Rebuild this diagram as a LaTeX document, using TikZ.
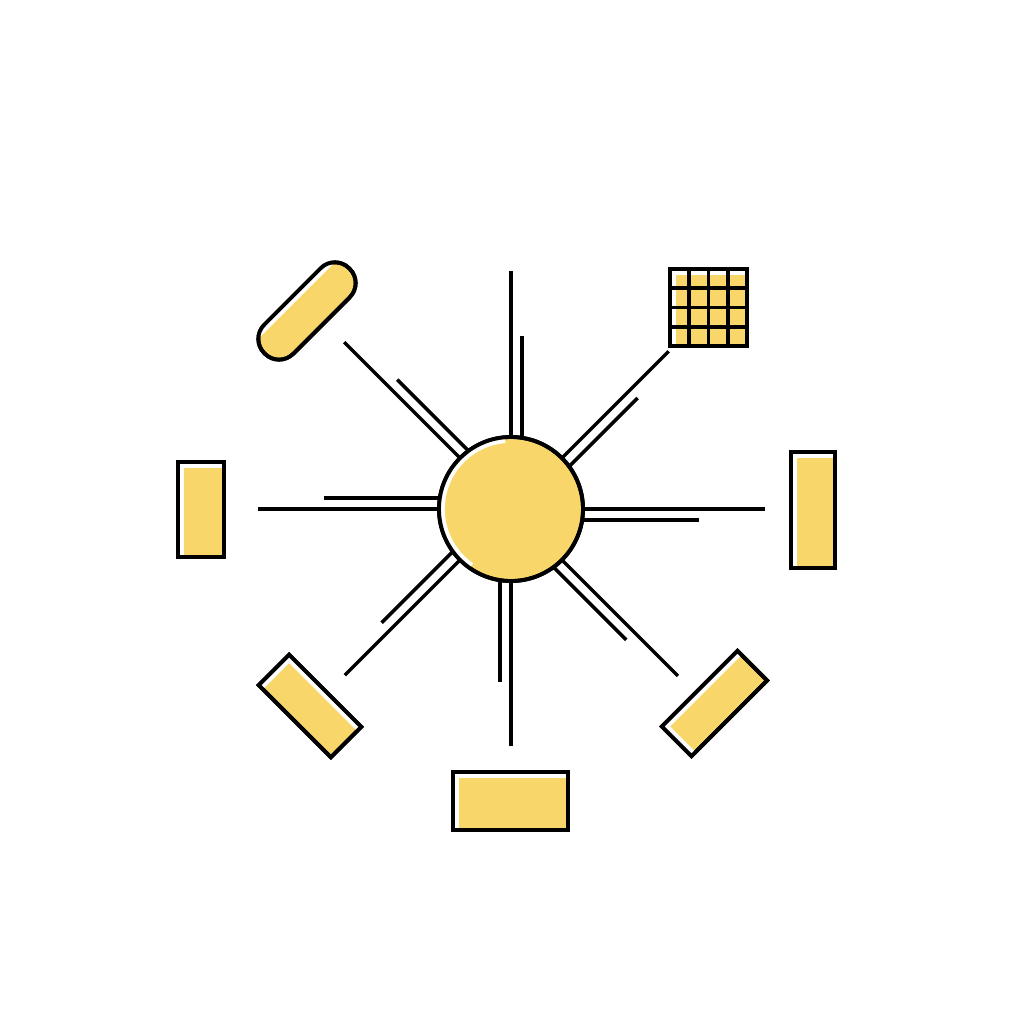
\documentclass[tikz,border=0pt]{standalone}
\usetikzlibrary{calc}
\definecolor{sunyellow}{RGB}{249,214,106}
\tikzset{
  outline/.style={draw=black, line width=1.1pt},
  tile/.style={rectangle, outline, fill=sunyellow, inner sep=0pt, outer sep=0pt},
  hubdisc/.style={circle, outline, fill=sunyellow, minimum size=1.44cm, inner sep=0pt, outer sep=0pt},
  spoke/.style={draw=black, line width=1pt},
  gleam/.style={draw=white, line width=3.3pt},
}
% white rim inside the left and top edges of a tile
\newcommand{\gleambox}[1]{%
  \begin{scope}
    \clip (#1.south west) -- (#1.north west) -- (#1.north east) -- (#1.south east) -- cycle;
    \draw[gleam] (#1.south west) -- (#1.north west) -- (#1.north east);
  \end{scope}
  \draw[outline] (#1.south west) -- (#1.north west) -- (#1.north east) -- (#1.south east) -- cycle;
}
\begin{document}
\begin{tikzpicture}[x=0.01cm, y=0.01cm]
  \fill[white] (0,0) rectangle (1024,-1024);
  \node[hubdisc] (hub) at (511,-509) {};
  % spokes, each a long and a short line
  \foreach \ang/\far/\near [count=\i] in {90/238/173, 45/223/168, 0/254/188, -45/236/174,
      -90/237/173, -135/235/172, 180/253/187, 135/236/172}{
    \coordinate (tip\i) at ($(hub.center)+(\ang:\far)$);
    \coordinate (twina\i) at ($(hub.center)+(\ang:71)+(\ang-90:11)$);
    \coordinate (twinb\i) at ($(hub.center)+(\ang:\near)+(\ang-90:11)$);
    \draw[spoke] (hub.\ang) -- (tip\i);
    \draw[spoke] (twina\i) -- (twinb\i);
  }
  \begin{scope}
    \clip (hub.center) circle (72);
    \draw[gleam] (hub.center) ++(95:72) arc (95:235:72);
  \end{scope}
  \draw[outline] (hub.center) circle (72);

  % pill
  \node[tile, minimum width=1.2cm, minimum height=0.41cm, rotate=45, rounded corners=0.2cm] (pill) at (307,-311) {};
  \begin{scope}
    \clip[rounded corners=0.2cm] (pill.south west) -- (pill.north west) -- (pill.north east) -- (pill.south east) -- cycle;
    \draw[gleam] (pill.north west) -- (pill.north east);
  \end{scope}
  \draw[outline, rounded corners=0.2cm] (pill.south west) -- (pill.north west) -- (pill.north east) -- (pill.south east) -- cycle;

  % grid
  \node[tile, minimum size=0.77cm] (grid) at (708.5,-307.5) {};
  \gleambox{grid}
  \foreach \k in {1,2,3}{
    \draw[outline] ($(grid.south west)!\k/4!(grid.south east)$) -- ($(grid.north west)!\k/4!(grid.north east)$);
    \draw[outline] ($(grid.south west)!\k/4!(grid.north west)$) -- ($(grid.south east)!\k/4!(grid.north east)$);
  }

  % boxes
  \node[tile, minimum width=0.44cm, minimum height=1.16cm] (rightbar) at (813,-510) {};
  \gleambox{rightbar}
  \node[tile, minimum width=0.46cm, minimum height=0.95cm] (leftbar) at (201,-509.5) {};
  \gleambox{leftbar}
  \node[tile, minimum width=1.02cm, minimum height=0.43cm, rotate=-45] (lowleft) at (310,-706) {};
  \gleambox{lowleft}
  \node[tile, minimum width=1.07cm, minimum height=0.42cm, rotate=45] (lowright) at (714.5,-703.5) {};
  \gleambox{lowright}
  \node[tile, minimum width=1.15cm, minimum height=0.58cm] (bottom) at (510.5,-801) {};
  \gleambox{bottom}
\end{tikzpicture}
\end{document}
